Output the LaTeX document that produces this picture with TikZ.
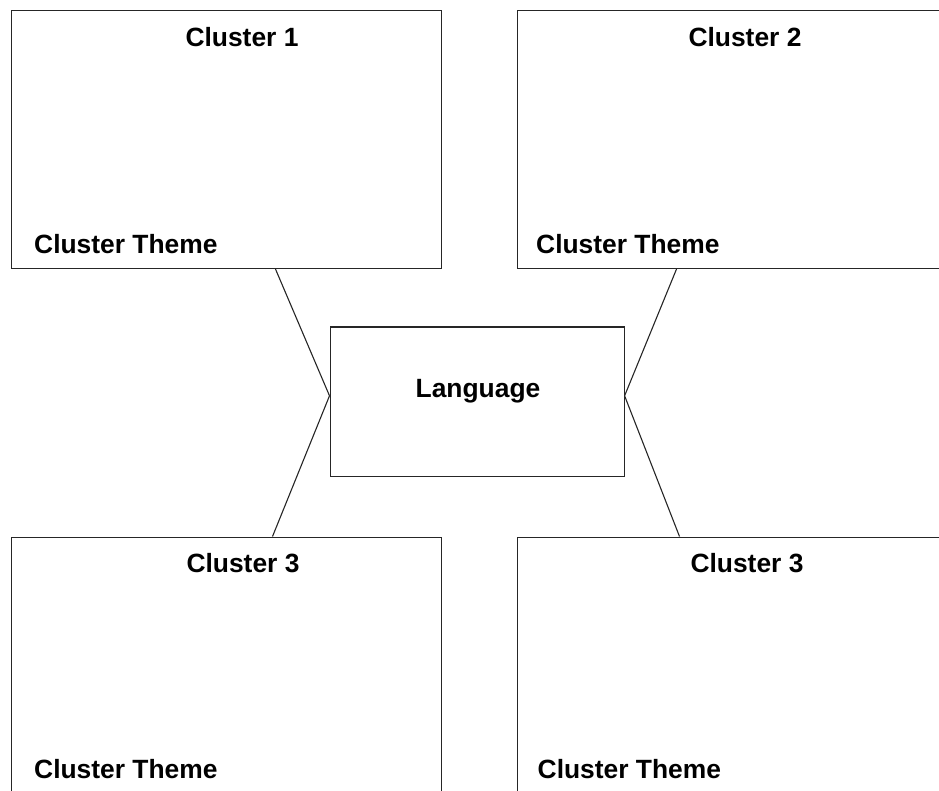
\documentclass[tikz,border=0pt]{standalone}
\usepackage{fontspec}
\setmainfont{Liberation Sans}
\usetikzlibrary{calc}
\tikzset{
  box/.style={draw=black!85, line width=1.1pt, rectangle, inner sep=0pt, anchor=north west},
  link/.style={draw=black!85, line width=1.1pt},
  lbl/.style={font=\fontsize{26.4}{31}\selectfont\bfseries, inner sep=0pt, anchor=base},
  theme/.style={lbl, anchor=base west}
}
\begin{document}
\begin{tikzpicture}[x=1pt,y=-1pt]
  \useasboundingbox (0,0) rectangle (939,791);
  \clip (0,0) rectangle (939,791);
  % cluster boxes
  \node[box, minimum width=430pt, minimum height=258pt] (c1) at (11,10) {};
  \node[box, minimum width=450pt, minimum height=258pt] (c2) at (517,10) {};
  \node[box, minimum width=430pt, minimum height=270pt] (c3) at (11,536.5) {};
  \node[box, minimum width=450pt, minimum height=270pt] (c4) at (517,536.5) {};
  % central box
  \node[box, minimum width=294pt, minimum height=149.5pt] (lang) at (329.5,326.5) {};
  % labels
  \node[lbl] (t1) at (242,47) {Cluster 1};
  \node[lbl] (t2) at (745,47) {Cluster 2};
  \node[lbl] (t3) at (243,572) {Cluster 3};
  \node[lbl] (t4) at (747,572) {Cluster 3};
  \node[lbl] (tl) at (478,397) {Language};
  \node[theme] (th1) at (34,254) {Cluster Theme};
  \node[theme] (th2) at (536,254) {Cluster Theme};
  \node[theme] (th3) at (34,778) {Cluster Theme};
  \node[theme] (th4) at (537.5,778) {Cluster Theme};
  % connectors
  \coordinate (lw) at ($(lang.west)+(0,-6)$);
  \coordinate (le) at ($(lang.east)+(0,-6)$);
  \draw[link] ($(c1.south west)+(264.5,0)$) -- (lw);
  \draw[link] ($(c2.south west)+(159.5,0)$) -- (le);
  \draw[link] (lw) -- ($(c3.north west)+(261.5,0)$);
  \draw[link] (le) -- ($(c4.north west)+(162.5,0)$);
\end{tikzpicture}
\end{document}
